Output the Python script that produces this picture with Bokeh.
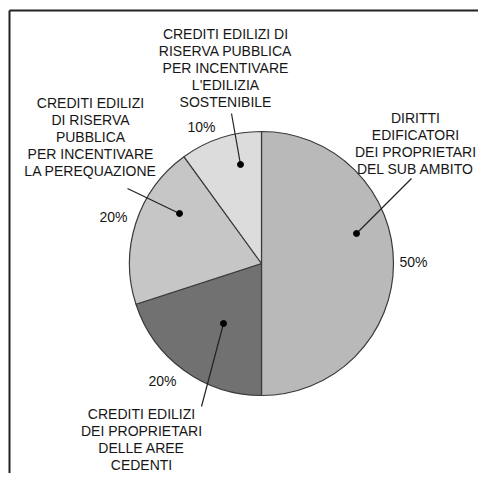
import numpy as np
from bokeh.plotting import figure
from bokeh.models import Range1d, ColumnDataSource
from bokeh.core.properties import value
from bokeh.embed import file_html
from bokeh.resources import INLINE

# ---- data ----
categories = [
    "DIRITTI\nEDIFICATORI\nDEI PROPRIETARI\nDEL SUB AMBITO",
    "CREDITI EDILIZI\nDEI PROPRIETARI\nDELLE AREE\nCEDENTI",
    "CREDITI EDILIZI\nDI RISERVA\nPUBBLICA\nPER INCENTIVARE\nLA PEREQUAZIONE",
    "CREDITI EDILIZI DI\nRISERVA PUBBLICA\nPER INCENTIVARE\nL'EDILIZIA\nSOSTENIBILE",
]
shares = [50, 20, 20, 10]
pct_labels = ["50%", "20%", "20%", "10%"]
colors = ["#b9b9b9", "#717171", "#c6c6c6", "#dcdcdc"]

# ---- layout (pixel based, y up) ----
W, H = 478, 473
def sy(y):  # pixel-from-top -> data y
    return H - y

cx, cy, R = 261, sy(263), 132

p = figure(width=W, height=H, output_backend="svg", toolbar_location=None,
           x_range=Range1d(0, W), y_range=Range1d(0, H), min_border=0)
p.axis.visible = False
p.grid.visible = False
p.outline_line_color = None
p.background_fill_color = "white"

# frame (top and left edges visible)
p.segment(x0=[9, 9], y0=[sy(10), sy(10)], x1=[9, W], y1=[sy(H), sy(10)],
          line_color="#222222", line_width=2)

# wedges: start at top, clockwise
fr = np.array(shares, dtype=float) / sum(shares)
cum = np.concatenate([[0], np.cumsum(fr)])
start_deg = 90 - cum[1:] * 360
end_deg = 90 - cum[:-1] * 360
src = ColumnDataSource(dict(start=np.radians(start_deg), end=np.radians(end_deg), color=colors))
p.wedge(x=cx, y=cy, radius=R, start_angle="start", end_angle="end",
        fill_color="color", line_color="#3a3a3a", line_width=1.2, source=src)

# leader lines: dot inside slice -> label
dots = [(356, 233), (223, 323), (179, 213), (240, 164)]
ends = [(411, 178), (201, 406), (127, 188), (231, 113)]
p.segment(x0=[d[0] for d in dots], y0=[sy(d[1]) for d in dots],
          x1=[e[0] for e in ends], y1=[sy(e[1]) for e in ends],
          line_color="#222222", line_width=1.2)
p.scatter(x=[d[0] for d in dots], y=[sy(d[1]) for d in dots], size=6,
          fill_color="black", line_color="black")

# category labels
label_pos = [(415, 117), (141, 413), (90, 102), (225, 33)]
line_h = 17
for txt, (lx, ly) in zip(categories, label_pos):
    lines = txt.split("\n")
    p.text(x=[lx] * len(lines), y=[sy(ly + i * line_h) for i in range(len(lines))],
           text=lines, text_font=value("Liberation Sans"), text_font_size="14px",
           text_color="#161616", text_align="center", text_baseline="middle")

# percentage labels
pct_pos = [(413, 261), (162, 380), (113, 216), (201, 126)]
p.text(x=[q[0] for q in pct_pos], y=[sy(q[1]) for q in pct_pos], text=pct_labels,
       text_font=value("Liberation Sans"), text_font_size="14px",
       text_color="#161616", text_align="center", text_baseline="middle")

open("out.html", "w").write(file_html(p, INLINE))
